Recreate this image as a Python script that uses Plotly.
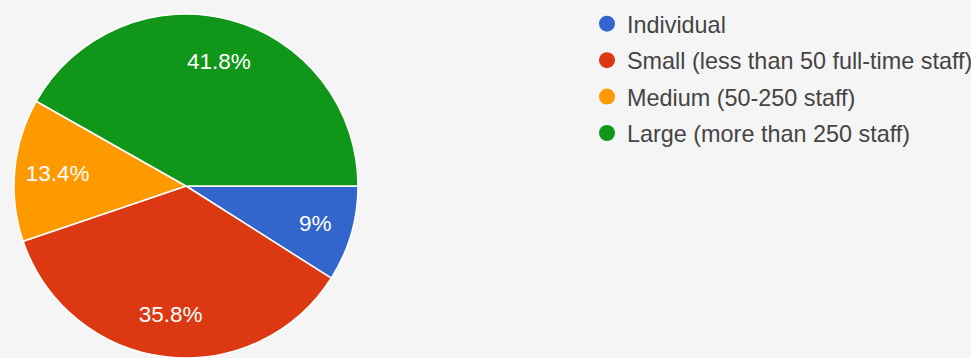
import plotly.graph_objects as go

# Company size breakdown of respondents
categories = [
    "Individual",
    "Small (less than 50 full-time staff)",
    "Medium (50-250 staff)",
    "Large (more than 250 staff)",
]
shares = [9.0, 35.8, 13.4, 41.8]
slice_colors = ["#3366cc", "#dc3912", "#ff9900", "#109618"]

W, H = 971, 358
FONT = "Arial, Liberation Sans, sans-serif"
PIE_DOMAIN = dict(x=[14 / W, 358 / W], y=[0, 344 / H])

fig = go.Figure()

# Filled slices
fig.add_trace(go.Pie(
    labels=categories,
    values=shares,
    sort=False,
    direction="clockwise",
    rotation=90,
    marker=dict(colors=slice_colors, line=dict(color="#ffffff", width=1.5)),
    textinfo="none",
    hoverinfo="skip",
    showlegend=False,
    domain=PIE_DOMAIN,
))

# Percentage labels, set out towards the rim of each slice
fig.add_trace(go.Pie(
    labels=categories,
    values=shares,
    sort=False,
    direction="clockwise",
    rotation=90,
    hole=0.5,
    marker=dict(colors=["rgba(0,0,0,0)"] * len(shares),
                line=dict(color="rgba(0,0,0,0)", width=0)),
    texttemplate="%{percent:.3~p}",
    textposition="inside",
    insidetextorientation="horizontal",
    textfont=dict(family=FONT, size=22.5, color="#ffffff"),
    hoverinfo="skip",
    showlegend=False,
    domain=PIE_DOMAIN,
))

# Round legend markers, one entry per category
for name, col in zip(categories, slice_colors):
    fig.add_trace(go.Scatter(
        x=[None], y=[None], mode="markers", name=name,
        legendgroup=name,
        marker=dict(symbol="circle", size=16, color=col),
        hoverinfo="skip",
    ))

fig.update_layout(
    width=W, height=H,
    margin=dict(l=0, r=0, t=0, b=0, autoexpand=False),
    paper_bgcolor="#f5f5f5",
    plot_bgcolor="#f5f5f5",
    xaxis=dict(visible=False),
    yaxis=dict(visible=False),
    showlegend=True,
    legend=dict(
        x=587 / W, xanchor="left",
        y=1 - 2 / H, yanchor="top",
        font=dict(family=FONT, size=23.4, color="#444444"),
        tracegroupgap=3,
        bgcolor="rgba(0,0,0,0)",
        borderwidth=0,
        itemclick=False, itemdoubleclick=False,
    ),
)

fig.write_html("out.html")
